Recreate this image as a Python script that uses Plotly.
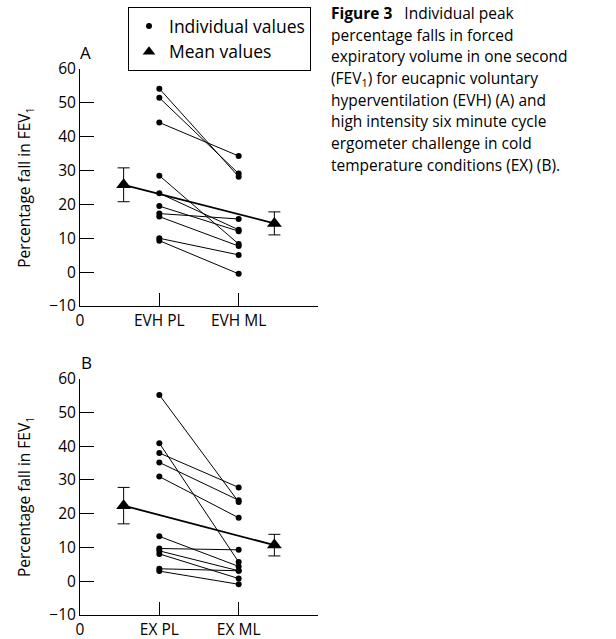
import plotly.graph_objects as go

# ---- data ----
A_categories = ["EVH PL", "EVH ML"]
B_categories = ["EX PL", "EX ML"]

A_PL = [54.2, 51.5, 44.2, 28.5, 23.3, 19.5, 17.3, 16.4, 10.0, 9.3]
A_ML = [28.2, 29.1, 34.3, 8.3, 12.5, 12.1, 15.7, 7.7, 5.1, -0.5]
A_mean = [25.8, 14.4]
A_sd = [5.0, 3.4]

B_PL = [55.2, 40.9, 38.0, 35.2, 31.0, 13.3, 9.7, 9.0, 8.1, 3.7, 3.0]
B_ML = [23.5, 5.7, 27.8, 24.0, 18.8, 4.4, 9.3, 3.1, 0.8, 3.1, -0.9]
B_mean = [22.4, 10.7]
B_sd = [5.4, 3.2]

y_ticks = [-10, 0, 10, 20, 30, 40, 50, 60]

caption_lines = [
    "<b>Figure 3</b>   Individual peak",
    "percentage falls in forced",
    "expiratory volume in one second",
    "(FEV<sub>1</sub>) for eucapnic voluntary",
    "hyperventilation (EVH) (A) and",
    "high intensity six minute cycle",
    "ergometer challenge in cold",
    "temperature conditions (EX) (B).",
]

FONT = "Open Sans"
W, H = 616, 639
CAT_X = [1, 2]          # category positions on the x axis
MEAN_X = [0.55, 2.45]   # positions of the mean markers


def px(x):
    return x / W


def py(y):
    return 1 - y / H


fig = go.Figure()


def add_panel(pl, ml, mean, sd, xa, ya):
    xs, ys = [], []
    for a, b in zip(pl, ml):
        xs += [CAT_X[0], CAT_X[1], None]
        ys += [a, b, None]
    fig.add_trace(go.Scatter(
        x=xs, y=ys, mode="lines+markers", xaxis=xa, yaxis=ya,
        line=dict(color="black", width=1),
        marker=dict(symbol="circle", size=6, color="black"),
        showlegend=False, hoverinfo="skip"))
    fig.add_trace(go.Scatter(
        x=MEAN_X, y=mean, mode="lines+markers", xaxis=xa, yaxis=ya,
        line=dict(color="black", width=1.8),
        marker=dict(symbol="triangle-up", size=13, color="black"),
        error_y=dict(type="data", array=sd, visible=True,
                     color="black", thickness=1, width=6),
        showlegend=False, hoverinfo="skip"))


add_panel(A_PL, A_ML, A_mean, A_sd, "x", "y")
add_panel(B_PL, B_ML, B_mean, B_sd, "x2", "y2")

# legend entries
fig.add_trace(go.Scatter(x=[None], y=[None], mode="markers", name="Individual values",
                         marker=dict(symbol="circle", size=6, color="black")))
fig.add_trace(go.Scatter(x=[None], y=[None], mode="markers", name="Mean values",
                         marker=dict(symbol="triangle-up", size=11, color="black")))

tickfont = dict(family=FONT, size=15.5, color="black")
xcommon = dict(range=[0, 3], showline=True, linecolor="black", linewidth=1,
               ticks="inside", ticklen=13, tickcolor="black", tickwidth=1,
               showgrid=False, zeroline=False, tickfont=tickfont, automargin=False)
ycommon = dict(range=[-10, 60], showline=True, linecolor="black", linewidth=1,
               ticks="inside", ticklen=14, tickcolor="black", tickwidth=1,
               tickvals=y_ticks, ticktext=["\u221210"] + [str(v) for v in y_ticks[1:]],
               showgrid=False, zeroline=False, tickfont=tickfont, automargin=False,
               title=dict(text="Percentage fall in FEV<sub>1</sub>",
                          font=dict(family=FONT, size=15.5, color="black"), standoff=14))

fig.update_layout(
    width=W, height=H,
    margin=dict(l=0, r=0, t=0, b=0, autoexpand=False),
    paper_bgcolor="white", plot_bgcolor="white",
    font=dict(family=FONT, color="black"),
    xaxis=dict(domain=[px(80), px(318)], anchor="y",
               tickvals=[0] + CAT_X, ticktext=["0"] + A_categories, **xcommon),
    yaxis=dict(domain=[py(306), py(69)], anchor="x", **ycommon),
    xaxis2=dict(domain=[px(80), px(318)], anchor="y2",
                tickvals=[0] + CAT_X, ticktext=["0"] + B_categories, **xcommon),
    yaxis2=dict(domain=[py(615), py(378.7)], anchor="x2", **ycommon),
    showlegend=True,
    legend=dict(x=px(128), y=py(7), xanchor="left", yanchor="top",
                bordercolor="black", borderwidth=1, bgcolor="white",
                font=dict(family=FONT, size=17.5, color="black"),
                itemsizing="trace", tracegroupgap=0),
)

annotations = [
    dict(text="A", x=px(85), y=py(53), xref="paper", yref="paper",
         xanchor="center", yanchor="middle",
         showarrow=False, font=dict(family=FONT, size=17, color="black")),
    dict(text="B", x=px(86), y=py(362), xref="paper", yref="paper",
         xanchor="center", yanchor="middle",
         showarrow=False, font=dict(family=FONT, size=17, color="black")),
]
for i, line in enumerate(caption_lines):
    annotations.append(dict(
        text=line, x=px(329), y=py(13 + i * 21.7), xref="paper", yref="paper",
        xanchor="left", yanchor="middle", align="left", showarrow=False,
        font=dict(family=FONT, size=15.5, color="black")))
fig.update_layout(annotations=annotations)

fig.write_html("out.html", config={"displayModeBar": False},
               post_script="document.body.style.margin='0px';")
